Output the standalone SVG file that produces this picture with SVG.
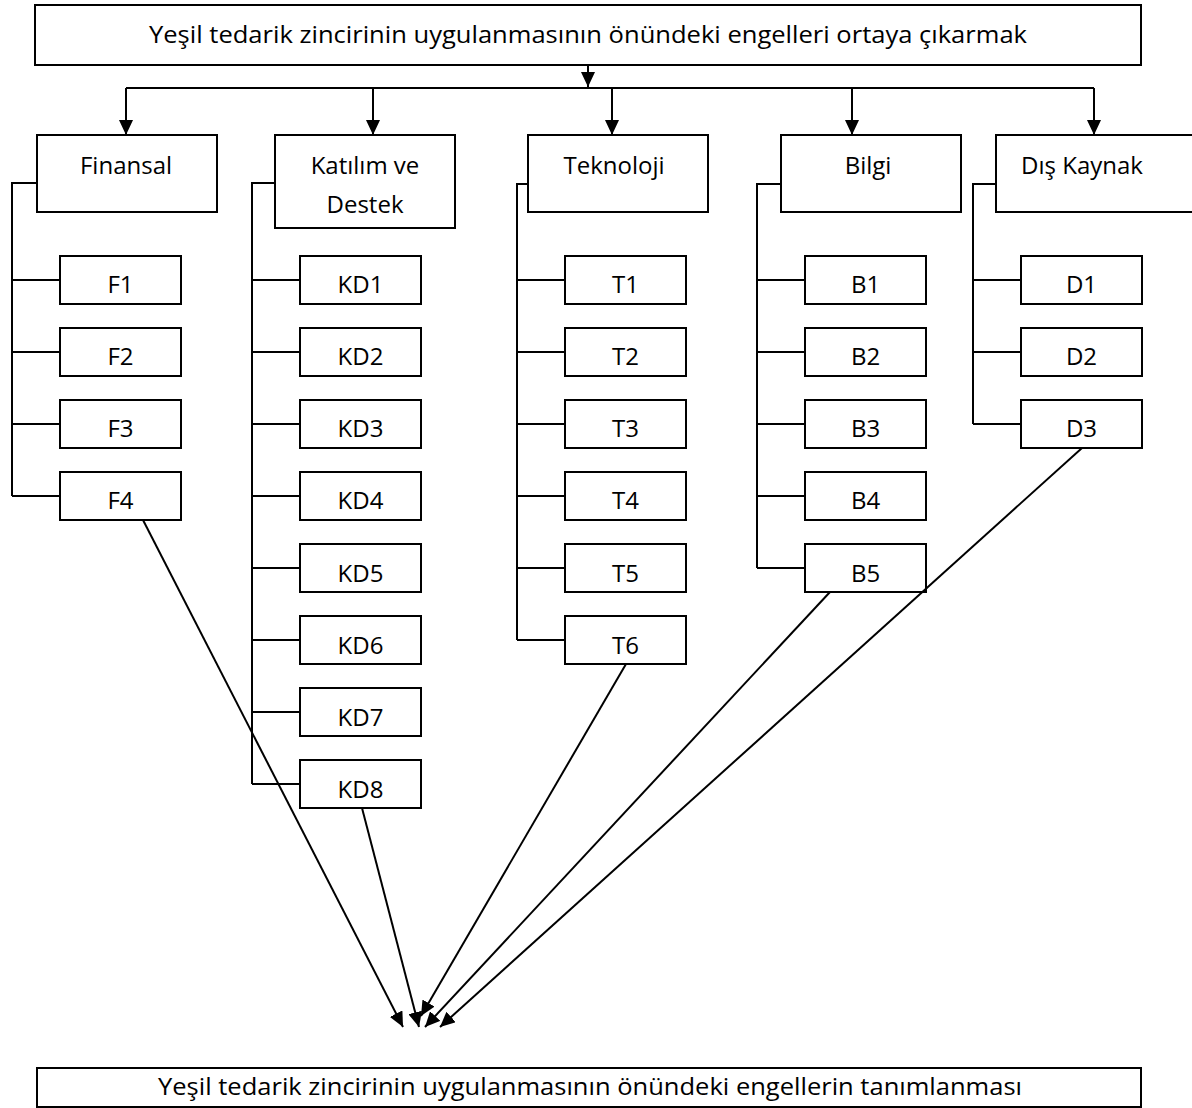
<svg xmlns="http://www.w3.org/2000/svg" width="1192" height="1108" viewBox="0 0 1192 1108">
<style>
.box{fill:#fff;stroke:#000;stroke-width:2}
.ln{fill:none;stroke:#000;stroke-width:2}
.t{font-family:"Open Sans","Liberation Sans",sans-serif;font-size:24px;fill:#000;text-anchor:middle}
</style>
<defs>
<marker id="ah" markerUnits="userSpaceOnUse" markerWidth="16" markerHeight="14" refX="15" refY="7" orient="auto">
<path d="M0,0 L15,7 L0,14 z" fill="#000"/>
</marker>
</defs>
<rect width="1192" height="1108" fill="#fff"/>
<g id="connectors">
<path class="ln" d="M588,65 V87" marker-end="url(#ah)"/>
<path class="ln" d="M126,88 H1094"/>
<path class="ln" d="M126,88 V135" marker-end="url(#ah)"/>
<path class="ln" d="M373,88 V135" marker-end="url(#ah)"/>
<path class="ln" d="M612,88 V135" marker-end="url(#ah)"/>
<path class="ln" d="M852,88 V135" marker-end="url(#ah)"/>
<path class="ln" d="M1094,88 V135" marker-end="url(#ah)"/>
<path class="ln" d="M37,183 H12 V496 M12,280 H60 M12,352 H60 M12,424 H60 M12,496 H60"/>
<path class="ln" d="M275,183 H252 V784 M252,280 H300 M252,352 H300 M252,424 H300 M252,496 H300 M252,568 H300 M252,640 H300 M252,712 H300 M252,784 H300"/>
<path class="ln" d="M528,184 H517 V640 M517,280 H565 M517,352 H565 M517,424 H565 M517,496 H565 M517,568 H565 M517,640 H565"/>
<path class="ln" d="M781,184 H757 V568 M757,280 H805 M757,352 H805 M757,424 H805 M757,496 H805 M757,568 H805"/>
<path class="ln" d="M996,184 H973 V424 M973,280 H1021 M973,352 H1021 M973,424 H1021"/>
</g>
<g id="top"><rect class="box" x="35" y="5" width="1106" height="60"/><text class="t" x="588" y="43" textLength="878" lengthAdjust="spacingAndGlyphs">Yeşil tedarik zincirinin uygulanmasının önündeki engelleri ortaya çıkarmak</text></g>
<g id="finansal"><rect class="box" x="37" y="135" width="180" height="77"/><text class="t" x="126" y="174">Finansal</text></g>
<g id="katilim"><rect class="box" x="275" y="135" width="180" height="93"/><text class="t" x="365" y="174">Katılım ve</text><text class="t" x="365" y="213">Destek</text></g>
<g id="teknoloji"><rect class="box" x="528" y="135" width="180" height="77"/><text class="t" x="614" y="174">Teknoloji</text></g>
<g id="bilgi"><rect class="box" x="781" y="135" width="180" height="77"/><text class="t" x="868" y="174">Bilgi</text></g>
<g id="dis"><rect class="box" x="996" y="135" width="210" height="77"/><text class="t" x="1082" y="174">Dış Kaynak</text></g>
<g id="F1"><rect class="box" x="60" y="256" width="121" height="48"/><text class="t" x="120.5" y="293">F1</text></g>
<g id="F2"><rect class="box" x="60" y="328" width="121" height="48"/><text class="t" x="120.5" y="365">F2</text></g>
<g id="F3"><rect class="box" x="60" y="400" width="121" height="48"/><text class="t" x="120.5" y="437">F3</text></g>
<g id="F4"><rect class="box" x="60" y="472" width="121" height="48"/><text class="t" x="120.5" y="509">F4</text></g>
<g id="KD1"><rect class="box" x="300" y="256" width="121" height="48"/><text class="t" x="360.5" y="293">KD1</text></g>
<g id="KD2"><rect class="box" x="300" y="328" width="121" height="48"/><text class="t" x="360.5" y="365">KD2</text></g>
<g id="KD3"><rect class="box" x="300" y="400" width="121" height="48"/><text class="t" x="360.5" y="437">KD3</text></g>
<g id="KD4"><rect class="box" x="300" y="472" width="121" height="48"/><text class="t" x="360.5" y="509">KD4</text></g>
<g id="KD5"><rect class="box" x="300" y="544" width="121" height="48"/><text class="t" x="360.5" y="582">KD5</text></g>
<g id="KD6"><rect class="box" x="300" y="616" width="121" height="48"/><text class="t" x="360.5" y="654">KD6</text></g>
<g id="KD7"><rect class="box" x="300" y="688" width="121" height="48"/><text class="t" x="360.5" y="726">KD7</text></g>
<g id="KD8"><rect class="box" x="300" y="760" width="121" height="48"/><text class="t" x="360.5" y="798">KD8</text></g>
<g id="T1"><rect class="box" x="565" y="256" width="121" height="48"/><text class="t" x="625.5" y="293">T1</text></g>
<g id="T2"><rect class="box" x="565" y="328" width="121" height="48"/><text class="t" x="625.5" y="365">T2</text></g>
<g id="T3"><rect class="box" x="565" y="400" width="121" height="48"/><text class="t" x="625.5" y="437">T3</text></g>
<g id="T4"><rect class="box" x="565" y="472" width="121" height="48"/><text class="t" x="625.5" y="509">T4</text></g>
<g id="T5"><rect class="box" x="565" y="544" width="121" height="48"/><text class="t" x="625.5" y="582">T5</text></g>
<g id="T6"><rect class="box" x="565" y="616" width="121" height="48"/><text class="t" x="625.5" y="654">T6</text></g>
<g id="B1"><rect class="box" x="805" y="256" width="121" height="48"/><text class="t" x="865.5" y="293">B1</text></g>
<g id="B2"><rect class="box" x="805" y="328" width="121" height="48"/><text class="t" x="865.5" y="365">B2</text></g>
<g id="B3"><rect class="box" x="805" y="400" width="121" height="48"/><text class="t" x="865.5" y="437">B3</text></g>
<g id="B4"><rect class="box" x="805" y="472" width="121" height="48"/><text class="t" x="865.5" y="509">B4</text></g>
<g id="B5"><rect class="box" x="805" y="544" width="121" height="48"/><text class="t" x="865.5" y="582">B5</text></g>
<g id="D1"><rect class="box" x="1021" y="256" width="121" height="48"/><text class="t" x="1081.5" y="293">D1</text></g>
<g id="D2"><rect class="box" x="1021" y="328" width="121" height="48"/><text class="t" x="1081.5" y="365">D2</text></g>
<g id="D3"><rect class="box" x="1021" y="400" width="121" height="48"/><text class="t" x="1081.5" y="437">D3</text></g>
<g id="bottom"><rect class="box" x="37" y="1068" width="1104" height="39"/><text class="t" x="590" y="1095" textLength="864" lengthAdjust="spacingAndGlyphs">Yeşil tedarik zincirinin uygulanmasının önündeki engellerin tanımlanması</text></g>
<g id="arrows">
<path class="ln" d="M143,520 L403,1027" marker-end="url(#ah)"/>
<path class="ln" d="M362,808 L419,1027" marker-end="url(#ah)"/>
<path class="ln" d="M626,664 L421,1016" marker-end="url(#ah)"/>
<path class="ln" d="M830,592 L425,1027" marker-end="url(#ah)"/>
<path class="ln" d="M1082,448 L440,1027" marker-end="url(#ah)"/>
</g>
</svg>
